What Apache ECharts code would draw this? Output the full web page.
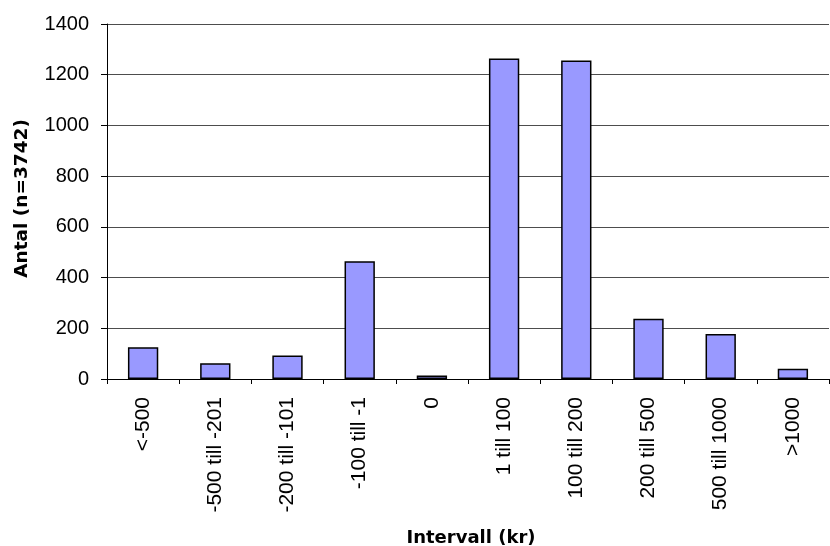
<!DOCTYPE html>
<html>
<head>
<meta charset="utf-8">
<script src="https://cdn.jsdelivr.net/npm/echarts@6/dist/echarts.min.js"></script>
<style>html,body{margin:0;padding:0;background:#fff;}#chart{width:830px;height:546px;}</style>
</head>
<body>
<div id="chart"></div>
<script>
var categories = ['<-500', '-500 till -201', '-200 till -101', '-100 till -1', '0', '1 till 100', '100 till 200', '200 till 500', '500 till 1000', '>1000'];
var counts = [125, 62, 93, 464, 14, 1264, 1256, 238, 177, 40];
var yTicks = { min: 0, max: 1400, interval: 200 };
var xTitle = 'Intervall (kr)';
var yTitle = 'Antal (n=3742)';

var labelFont = "'Liberation Sans', Arial, Helvetica, sans-serif";
var chart = echarts.init(document.getElementById('chart'), null, { renderer: 'canvas' });
chart.setOption({
  animation: false,
  backgroundColor: '#ffffff',
  grid: { left: 107, right: 1, top: 24, bottom: 167, containLabel: false, outerBoundsMode: 'none' },
  xAxis: {
    type: 'category',
    data: categories,
    name: xTitle,
    nameLocation: 'middle',
    nameGap: 150,
    nameTextStyle: { fontFamily: 'DejaVu Sans', fontWeight: 'bold', fontSize: 18, color: '#000', verticalAlign: 'top', padding: [0, 0, 0, 6] },
    axisLine: { lineStyle: { color: '#000', width: 1 } },
    axisTick: { show: true, length: 5, lineStyle: { color: '#000' } },
    axisLabel: { rotate: 90, margin: 18, fontFamily: labelFont, fontSize: 21, color: '#000', interval: 0 },
    splitLine: { show: false }
  },
  yAxis: {
    type: 'value',
    min: yTicks.min, max: yTicks.max, interval: yTicks.interval,
    name: yTitle,
    nameLocation: 'middle',
    nameGap: 75,
    nameTextStyle: { fontFamily: 'DejaVu Sans', fontWeight: 'bold', fontSize: 18.5, color: '#000', padding: [0, 0, 0, 6] },
    axisLine: { show: true, lineStyle: { color: '#000', width: 1 } },
    axisTick: { show: true, length: 6, lineStyle: { color: '#000' } },
    axisLabel: { margin: 18, fontFamily: labelFont, fontSize: 20, color: '#000', formatter: function (v) { return String(v); } },
    splitLine: { show: true, lineStyle: { color: '#4d4d4d', width: 1 } }
  },
  series: [{
    type: 'bar',
    data: counts,
    barWidth: '42%',
    itemStyle: { color: '#9999ff', borderColor: '#000', borderWidth: 1.5 }
  }]
});
</script>
</body>
</html>
